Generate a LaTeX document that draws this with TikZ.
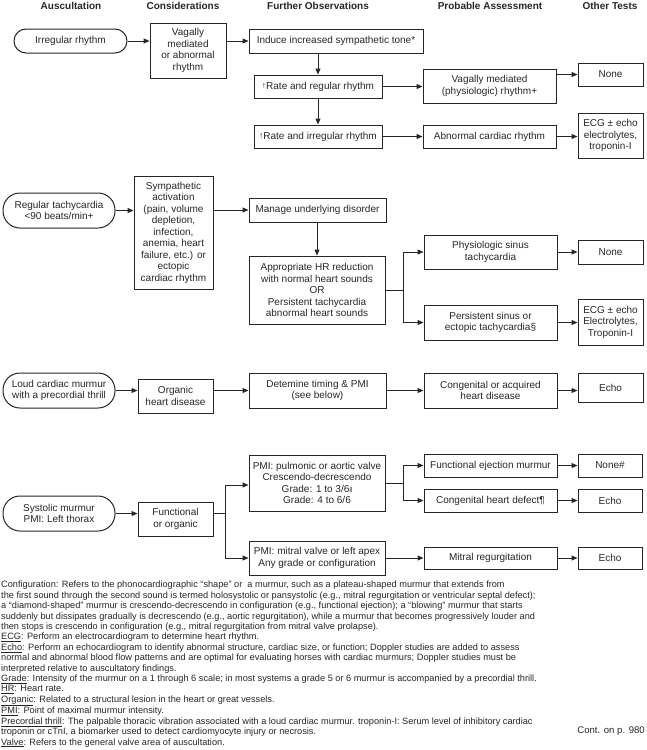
\documentclass[tikz,border=0pt]{standalone}
\usepackage{fontspec}
\setmainfont{Liberation Sans}
\usetikzlibrary{arrows.meta}
\newcommand{\bfs}{\fontsize{10}{11.5}\selectfont}
\newcommand{\ffs}{\fontsize{9.2}{10.4}\selectfont}
\newcommand{\upar}{{\fontsize{8.5}{8.5}\selectfont\raisebox{1pt}{↑}}}
\begin{document}
\begin{tikzpicture}[x=1pt,y=-1pt,
  every node/.style={text=black!85},
  hdr/.style={font=\bfseries\bfs, inner sep=0pt},
  bx/.style={draw=black!85, line width=1pt, align=center, inner sep=1pt, font=\bfs},
  pill/.style={bx, rounded corners=#1},
  arr/.style={draw=black!85, line width=1pt, -{Triangle[length=6pt,width=5pt]}},
  ln/.style={draw=black!85, line width=1pt}]
\useasboundingbox (0,0) rectangle (646,750);

% headers
\node[hdr] (h1) at (71,6) {Auscultation};
\node[hdr] (h2) at (183,6) {Considerations};
\node[hdr] (h3) at (318,6) {Further Observations};
\node[hdr] (h4) at (490,6) {Probable Assessment};
\node[hdr] (h5) at (610,6) {Other Tests};

% row 1
\node[pill=12pt, minimum width=113pt, minimum height=24pt] (irr) at (70.5,41) {Irregular rhythm};
\node[bx, minimum width=76pt, minimum height=55pt] (vag) at (188,50.5) {Vagally\\mediated\\or abnormal\\rhythm};
\node[bx, minimum width=174pt, minimum height=24pt] (induce) at (336,41) {Induce increased sympathetic tone*};
\node[bx, minimum width=128pt, minimum height=23pt] (rreg) at (318,86.5) {\upar Rate and regular rhythm};
\node[bx, minimum width=128pt, minimum height=23pt] (rirr) at (318,136.5) {\upar Rate and irregular rhythm};
\node[bx, minimum width=133pt, minimum height=34pt] (vagm) at (489.5,86) {Vagally mediated\\(physiologic) rhythm+};
\node[bx, minimum width=65pt, minimum height=23pt] (none1) at (610.5,74.5) {None};
\node[bx, minimum width=133pt, minimum height=23pt] (abn) at (489.5,136.5) {Abnormal cardiac rhythm};
\node[bx, minimum width=65pt, minimum height=45pt] (ecg1) at (610.5,135.5) {ECG ± echo\\electrolytes,\\troponin-I};

\draw[arr] (irr.east) -- (irr.east -| vag.west);
\draw[arr] (vag.east |- induce) -- (induce.west);
\draw[arr] (induce.south -| rreg) -- (rreg.north);
\draw[arr] (rreg.south) -- (rirr.north);
\draw[arr] (rreg.east) -- (rreg.east -| vagm.west);
\draw[arr] (vagm.east |- none1) -- (none1.west);
\draw[arr] (rirr.east) -- (rirr.east -| abn.west);
\draw[arr] (abn.east) -- (abn.east -| ecg1.west);

% row 2
\node[pill=17pt, minimum width=112pt, minimum height=35pt] (regt) at (59,210.5) {Regular tachycardia\\<90 beats/min+};
\node[bx, minimum width=79pt, minimum height=113pt] (symp) at (173.5,232.5) {Sympathetic\\activation\\(pain, volume\\depletion,\\infection,\\anemia, heart\\failure, etc.) or\\ectopic\\cardiac rhythm};
\node[bx, minimum width=137pt, minimum height=24pt] (manage) at (317.5,210) {Manage underlying disorder};
\node[bx, minimum width=136pt, minimum height=68pt] (approp) at (317,290) {Appropriate HR reduction\\with normal heart sounds\\OR\\Persistent tachycardia\\abnormal heart sounds};
\node[bx, minimum width=133pt, minimum height=34pt] (phys) at (490.5,252) {Physiologic sinus\\tachycardia};
\node[bx, minimum width=65pt, minimum height=24pt] (none2) at (610.5,252) {None};
\node[bx, minimum width=133pt, minimum height=35pt] (pers) at (490.5,322.5) {Persistent sinus or\\ectopic tachycardia§};
\node[bx, minimum width=65pt, minimum height=46pt] (ecg2) at (610.5,322) {ECG ± echo\\Electrolytes,\\Troponin-I};
\coordinate (s1) at (403,290);

\draw[arr] (regt.east) -- (regt.east -| symp.west);
\draw[arr] (symp.east |- manage) -- (manage.west);
\draw[arr] (manage.south -| approp) -- (approp.north);
\draw[ln] (approp.east |- s1) -- (s1);
\draw[arr] (s1) |- (phys.west);
\draw[arr] (s1) |- (pers.west);
\draw[arr] (phys.east) -- (phys.east -| none2.west);
\draw[arr] (pers.east) -- (pers.east -| ecg2.west);

% row 3
\node[pill=17pt, minimum width=112pt, minimum height=35pt] (loud) at (59,390.5) {Loud cardiac murmur\\with a precordial thrill};
\node[bx, minimum width=75pt, minimum height=34pt] (org) at (175.5,396) {Organic\\heart disease};
\node[bx, minimum width=137pt, minimum height=35pt] (detem) at (317.5,390.5) {Detemine timing \& PMI\\(see below)};
\node[bx, minimum width=133pt, minimum height=35pt] (cong) at (490.5,390.5) {Congenital or acquired\\heart disease};
\node[bx, minimum width=65pt, minimum height=29pt] (echo1) at (610.5,387.5) {Echo};

\draw[arr] (loud.east) -- (loud.east -| org.west);
\draw[arr] (org.east |- detem) -- (detem.west);
\draw[arr] (detem.east) -- (detem.east -| cong.west);
\draw[arr] (cong.east) -- (cong.east -| echo1.west);

% row 4
\node[pill=17pt, minimum width=112pt, minimum height=35pt] (syst) at (59,513.5) {Systolic murmur\\PMI: Left thorax};
\node[bx, minimum width=75pt, minimum height=34pt] (func) at (175.5,519) {Functional\\or organic};
\node[bx, minimum width=136pt, minimum height=56pt] (pmip) at (317,483) {PMI: pulmonic or aortic valve\\Crescendo-decrescendo\\Grade: 1 to 3/6{\fontsize{7}{7}\selectfont‖}\\Grade: 4 to 6/6};
\node[bx, minimum width=136pt, minimum height=34pt] (pmim) at (317,558) {PMI: mitral valve or left apex\\Any grade or configuration};
\node[bx, minimum width=133pt, minimum height=23pt] (fej) at (490.5,465.5) {Functional ejection murmur};
\node[bx, minimum width=133pt, minimum height=23pt] (chd) at (490.5,500.5) {Congenital heart defect¶};
\node[bx, minimum width=64pt, minimum height=23pt] (none3) at (610,465.5) {None\#};
\node[bx, minimum width=64pt, minimum height=23pt] (echo2) at (610,500.5) {Echo};
\node[bx, minimum width=133pt, minimum height=22pt] (mitr) at (490.5,558) {Mitral regurgitation};
\node[bx, minimum width=64pt, minimum height=22pt] (echo3) at (610,558) {Echo};
\coordinate (s2) at (225,513);
\coordinate (s3) at (403,483);

\draw[arr] (syst.east) -- (syst.east -| func.west);
\draw[ln] (func.east |- s2) -- (s2);
\draw[arr] (s2) |- ([yshift=-2pt]pmip.west);
\draw[arr] (s2) |- (pmim.west);
\draw[ln] (pmip.east) -- (s3);
\draw[arr] (s3) |- (fej.west);
\draw[arr] (s3) |- (chd.west);
\draw[arr] (fej.east) -- (fej.east -| none3.west);
\draw[arr] (chd.east) -- (chd.east -| echo2.west);
\draw[arr] (pmim.east) -- (pmim.east -| mitr.west);
\draw[arr] (mitr.east) -- (mitr.east -| echo3.west);

% footnotes
\node[anchor=north west, align=left, inner sep=0pt, font=\ffs] (notes) at (1,581) {%
Configuration: Refers to the phonocardiographic “shape” or \ a murmur, such as a plateau-shaped murmur that extends from\\
the first sound through the second sound is termed holosystolic or pansystolic (e.g., mitral regurgitation or ventricular septal defect);\\
a “diamond-shaped” murmur is crescendo-decrescendo in configuration (e.g., functional ejection); a “blowing” murmur that starts\\
suddenly but dissipates gradually is decrescendo (e.g., aortic regurgitation), while a murmur that becomes progressively louder and\\
then stops is crescendo in configuration (e.g., mitral regurgitation from mitral valve prolapse).\\
\underline{ECG}: Perform an electrocardiogram to determine heart rhythm.\\
\underline{Echo}: Perform an echocardiogram to identify abnormal structure, cardiac size, or function; Doppler studies are added to assess\\
normal and abnormal blood flow patterns and are optimal for evaluating horses with cardiac murmurs; Doppler studies must be\\
interpreted relative to auscultatory findings.\\
\underline{Grade}: Intensity of the murmur on a 1 through 6 scale; in most systems a grade 5 or 6 murmur is accompanied by a precordial thrill.\\
\underline{HR}: Heart rate.\\
\underline{Organic}: Related to a structural lesion in the heart or great vessels.\\
\underline{PMI}: Point of maximal murmur intensity.\\
\underline{Precordial thrill}: The palpable thoracic vibration associated with a loud cardiac murmur. troponin-I: Serum level of inhibitory cardiac\\
troponin or cTnI, a biomarker used to detect cardiomyocyte injury or necrosis.\\
\underline{Valve}: Refers to the general valve area of auscultation.};
\node[anchor=east, inner sep=0pt, font=\fontsize{9.6}{10}\selectfont] (cont) at (645,731) {Cont. on p. 980};
\end{tikzpicture}
\end{document}
